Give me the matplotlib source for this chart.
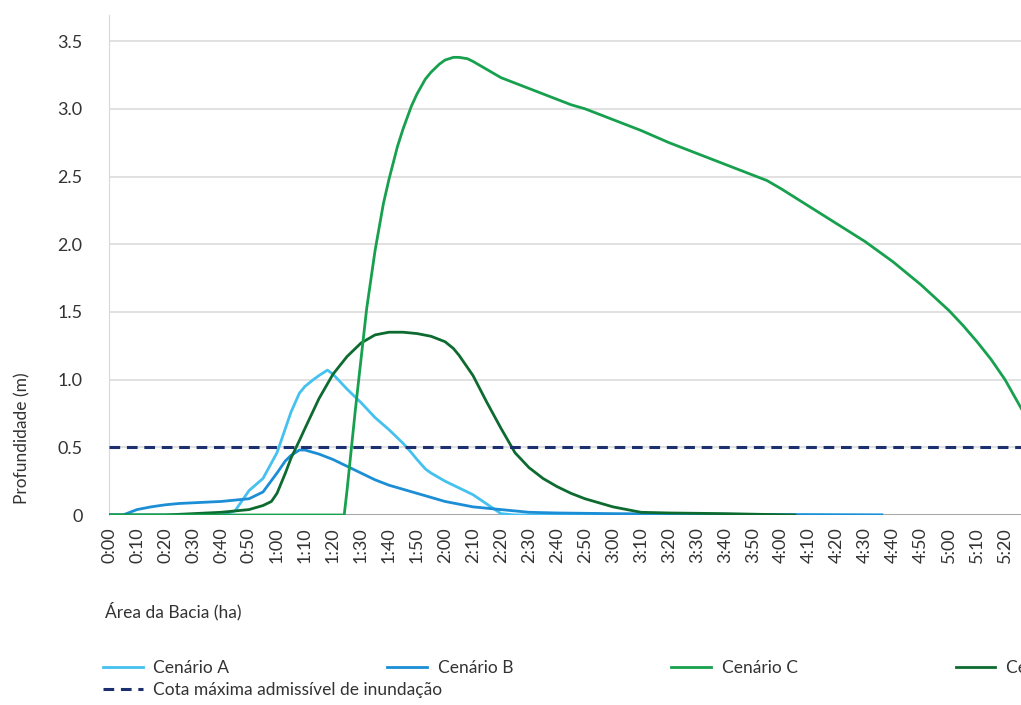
import matplotlib
matplotlib.use("Agg")
import matplotlib.pyplot as plt

plt.rcParams["font.family"] = ["Lato", "DejaVu Sans"]

# minutes since start and depth (m)
min_a = [0, 40, 45, 50, 55, 60, 63, 65, 68, 70, 73, 75, 78, 80, 85, 90, 95, 100, 105, 108, 110, 113, 115, 120, 125, 130, 135, 140, 145, 276]
cen_a = [0, 0, 0.03, 0.18, 0.27, 0.46, 0.64, 0.76, 0.90, 0.95, 1.00, 1.03, 1.07, 1.04, 0.93, 0.83, 0.72, 0.63, 0.53, 0.46, 0.41, 0.34, 0.31, 0.25, 0.20, 0.15, 0.08, 0.01, 0, 0]

min_b = [0, 5, 10, 15, 20, 25, 30, 35, 40, 45, 50, 55, 60, 63, 65, 68, 70, 75, 80, 85, 90, 95, 100, 105, 110, 115, 120, 125, 130, 135, 140, 150, 160, 180, 220, 276]
cen_b = [0, 0, 0.04, 0.06, 0.075, 0.085, 0.09, 0.095, 0.10, 0.11, 0.12, 0.17, 0.31, 0.40, 0.44, 0.48, 0.48, 0.45, 0.41, 0.36, 0.31, 0.26, 0.22, 0.19, 0.16, 0.13, 0.10, 0.08, 0.06, 0.05, 0.04, 0.02, 0.015, 0.01, 0.005, 0]

min_c = [0, 84, 85, 88, 90, 92, 95, 98, 100, 103, 105, 108, 110, 113, 115, 118, 120, 123, 125, 128, 130, 135, 140, 145, 150, 155, 160, 165, 170, 180, 190, 200, 210, 220, 230, 235, 240, 250, 260, 270, 280, 290, 300, 305, 310, 315, 320, 326]
cen_c = [0, 0, 0.18, 0.78, 1.15, 1.52, 1.95, 2.30, 2.48, 2.72, 2.85, 3.02, 3.11, 3.22, 3.27, 3.33, 3.36, 3.38, 3.38, 3.37, 3.35, 3.29, 3.23, 3.19, 3.15, 3.11, 3.07, 3.03, 3.00, 2.92, 2.84, 2.75, 2.67, 2.59, 2.51, 2.47, 2.41, 2.28, 2.15, 2.02, 1.87, 1.70, 1.51, 1.40, 1.28, 1.15, 1.00, 0.78]

min_d = [0, 20, 30, 40, 50, 55, 58, 60, 63, 65, 68, 70, 75, 80, 85, 90, 95, 100, 105, 110, 115, 120, 123, 125, 128, 130, 135, 140, 145, 150, 155, 160, 165, 170, 175, 180, 190, 200, 220, 245]
cen_d = [0, 0, 0.01, 0.02, 0.04, 0.07, 0.10, 0.16, 0.31, 0.42, 0.55, 0.64, 0.86, 1.04, 1.17, 1.27, 1.33, 1.35, 1.35, 1.34, 1.32, 1.28, 1.23, 1.18, 1.09, 1.03, 0.83, 0.64, 0.46, 0.35, 0.27, 0.21, 0.16, 0.12, 0.09, 0.06, 0.02, 0.015, 0.01, 0]

cota_max = 0.5
tick_min = list(range(0, 330, 10))
tick_lbl = [f"{m // 60}:{m % 60:02d}" for m in tick_min]

fig = plt.figure(figsize=(10.21, 7.05), dpi=100)
ax = fig.add_axes([109 / 1021, 1 - 515 / 705, 1 - 109 / 1021, 500 / 705])

ax.axhline(0, color="#a6a6a6", lw=2.2, zorder=1)
ax.plot(min_a, cen_a, color="#45c1ef", lw=2, label="Cenário A", zorder=3)
ax.plot(min_b, cen_b, color="#1b8ed6", lw=2, label="Cenário B", zorder=3)
ax.plot(min_d, cen_d, color="#0d6b30", lw=2, label="Cenário D", zorder=4)
ax.plot(min_c, cen_c, color="#17a04e", lw=2, label="Cenário C", zorder=5)
ax.axhline(cota_max, color="#1c2f6e", lw=2.2, ls=(0, (3.5, 2.2)), zorder=6,
           label="Cota máxima admissível de inundação")

ax.set_xlim(0, (1021 - 109) / 2.8)
ax.set_ylim(0, 500 / 135.4)
ax.set_yticks([0, 0.5, 1.0, 1.5, 2.0, 2.5, 3.0, 3.5])
ax.set_yticklabels(["0", "0.5", "1.0", "1.5", "2.0", "2.5", "3.0", "3.5"])
ax.set_xticks(tick_min)
ax.set_xticklabels(tick_lbl, rotation=90)
ax.tick_params(axis="y", length=0, pad=19, labelsize=13, labelcolor="#333333")
ax.tick_params(axis="x", length=0, pad=9, labelsize=13, labelcolor="#333333")
ax.grid(axis="y", color="#dcdcdc", lw=1.2)
ax.grid(axis="x", visible=False)
ax.set_axisbelow(True)
for s in ["top", "right", "bottom"]:
    ax.spines[s].set_visible(False)
ax.spines["left"].set_color("#d9d9d9")

fig.text(22 / 1021, 1 - 438 / 705, "Profundidade (m)", rotation=90, ha="center", va="center",
         fontsize=12.5, color="#333333")
fig.text(105 / 1021, 1 - 611 / 705, "Área da Bacia (ha)", ha="left", va="center",
         fontsize=12.5, color="#333333")

h, l = ax.get_legend_handles_labels()
order = [0, 1, 3, 2]
fig.legend([h[i] for i in order], [l[i] for i in order], loc="center left",
           bbox_to_anchor=(103 / 1021, 1 - 668 / 705), ncol=4, frameon=False,
           fontsize=12.5, handlelength=2.3, handletextpad=0.6, columnspacing=9.1,
           borderpad=0, borderaxespad=0, labelcolor="#333333")
fig.legend([h[4]], [l[4]], loc="center left",
           bbox_to_anchor=(103 / 1021, 1 - 690 / 705), frameon=False,
           fontsize=12.5, handlelength=2.3, handletextpad=0.6,
           borderpad=0, borderaxespad=0, labelcolor="#333333")

fig.savefig("out.png", dpi=100)
